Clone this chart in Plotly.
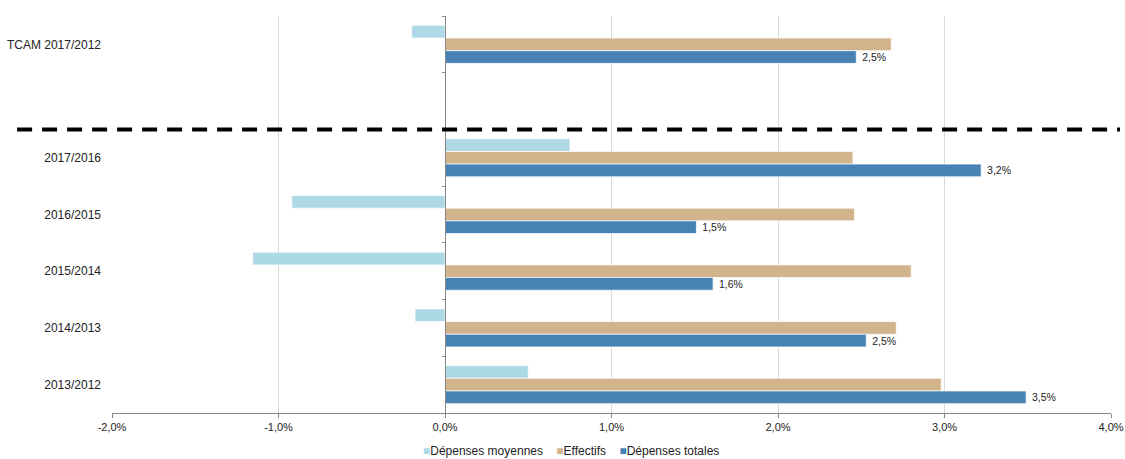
import plotly.graph_objects as go

CATEGORIES = ["TCAM 2017/2012", " ", "2017/2016", "2016/2015", "2015/2014", "2014/2013", "2013/2012"]

# growth rates in %
DEPENSES_MOYENNES = [-0.20, None, 0.75, -0.92, -1.155, -0.18, 0.50]
EFFECTIFS = [2.68, None, 2.45, 2.46, 2.80, 2.71, 2.98]
DEPENSES_TOTALES = [2.47, None, 3.22, 1.51, 1.61, 2.53, 3.49]

X_TICKS = [-2, -1, 0, 1, 2, 3, 4]
X_TICK_LABELS = [f"{v:.1f}%".replace(".", ",") for v in X_TICKS]

SERIES = [
    ("Dépenses moyennes", DEPENSES_MOYENNES, "#ADD8E6", False),
    ("Effectifs", EFFECTIFS, "#D2B48C", False),
    ("Dépenses totales", DEPENSES_TOTALES, "#4682B4", True),
]

FONT = "Liberation Sans, Arial, sans-serif"

fig = go.Figure()

for name, values, color, labelled in SERIES:
    fig.add_trace(
        go.Bar(
            name=name,
            x=values,
            y=CATEGORIES,
            orientation="h",
            marker=dict(color=color, line=dict(color="rgba(255,255,255,0.7)", width=1)),
            texttemplate="\u00a0%{x:.1f}%" if labelled else None,
            textposition="outside" if labelled else "none",
            textfont=dict(size=10.5, color="#222222", family=FONT),
            cliponaxis=False,
        )
    )

# helper trace so the zero-line axis is drawn
fig.add_trace(
    go.Scatter(x=[None], y=[CATEGORIES[0]], yaxis="y2", showlegend=False, hoverinfo="skip")
)

fig.add_shape(
    type="line",
    xref="paper",
    yref="y",
    x0=-0.095,
    x1=1.009,
    y0=1.5,
    y1=1.5,
    line=dict(color="black", width=4, dash="15px,10px"),
)

# legend drawn as a single annotation (compact symbols like the original)
gap = "\u00a0" * 4
legend_text = gap.join(
    f"<span style='color:{color}'>■</span>{name}" for name, _, color, _ in SERIES
)
fig.add_annotation(
    text=legend_text,
    xref="paper",
    yref="paper",
    x=0.4595,
    y=-0.096,
    xanchor="center",
    yanchor="middle",
    showarrow=False,
    font=dict(size=12, color="#222222", family=FONT),
)

fig.update_layout(
    width=1125,
    height=459,
    barmode="group",
    bargap=0.33,
    bargroupgap=0,
    separators=", ",
    showlegend=False,
    plot_bgcolor="white",
    paper_bgcolor="white",
    font=dict(family=FONT, size=11, color="#222222"),
    margin=dict(l=112, r=14, t=16, b=46),
    xaxis=dict(
        range=[-2, 4],
        tickvals=X_TICKS,
        ticktext=X_TICK_LABELS,
        showgrid=True,
        gridcolor="#d9d9d9",
        gridwidth=1,
        zeroline=False,
        showline=True,
        linecolor="#868686",
        linewidth=1,
        ticks="outside",
        ticklen=4,
        tickcolor="#868686",
        tickfont=dict(size=11, color="#222222"),
        automargin=False,
    ),
    yaxis=dict(
        categoryorder="array",
        categoryarray=CATEGORIES,
        range=[6.5, -0.5],
        showgrid=False,
        zeroline=False,
        showline=False,
        ticks="",
        ticklabelstandoff=10,
        tickfont=dict(size=12, color="#222222"),
        automargin=False,
    ),
    yaxis2=dict(
        overlaying="y",
        anchor="free",
        position=1 / 3,
        side="left",
        categoryorder="array",
        categoryarray=CATEGORIES,
        range=[6.5, -0.5],
        showticklabels=False,
        showgrid=False,
        zeroline=False,
        showline=True,
        linecolor="#868686",
        linewidth=1,
        ticks="outside",
        ticklen=3,
        tickcolor="#868686",
        tickson="boundaries",
        automargin=False,
    ),
)

fig.write_html(
    "out.html",
    config={"displayModeBar": False},
    post_script="document.body.style.margin = '0';",
)
